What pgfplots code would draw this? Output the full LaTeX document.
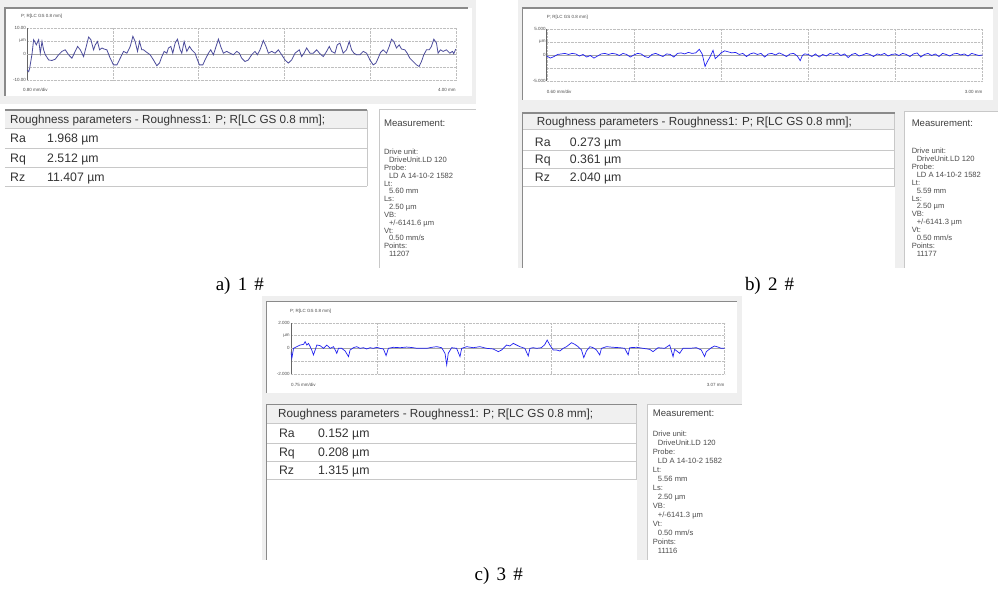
\documentclass[border=0pt]{standalone}
\usepackage{pgfplots}
\pgfplotsset{compat=1.18}
\usepackage{fontspec}
\setmainfont{Liberation Sans}
\newfontfamily\capfont{Liberation Serif}
\definecolor{panelbg}{HTML}{EFEFEF}
\definecolor{hdrbg}{HTML}{F0F0F0}
\definecolor{frame}{HTML}{C8C8C8}
\definecolor{darkframe}{HTML}{8A8A8A}
\definecolor{curveA}{HTML}{4B4B9B}
\definecolor{curveB}{HTML}{2020F0}
\definecolor{txt}{HTML}{333333}
\newcommand\tinyf{\fontsize{4.5}{5}\selectfont}
\newcommand\hdrf{\fontsize{11.7}{12}\selectfont}
\newcommand\tabf{\fontsize{12.3}{13}\selectfont}
\newcommand\capsp{\hspace{0.38em}}
\tikzset{tb/.style={anchor=base west,inner sep=0,font=\tabf,text=txt},
         hb/.style={anchor=base west,inner sep=0,font=\hdrf,text=txt}}
\pgfplotsset{profile/.style={
  scale only axis, anchor=south west,
  axis x line*=bottom, axis y line*=left,
  x axis line style={draw=gray!50, densely dotted, -},
  y axis line style={draw=black!60, -, line width=0.7pt},
  major tick length=0pt,
  xticklabels={},
  grid=major, major grid style={gray!50, densely dotted, line width=0.4pt},
  yticklabel style={font=\tinyf, text=black!70, inner sep=1pt},
  clip=true}}
% #1 x, #2 y of "Measurement:", #3 y of first line, #4 step, #5 Lt, #6 VB, #7 Points
\newcommand\meas[7]{%
  \node[anchor=base west,inner sep=0,font=\fontsize{9.6}{10}\selectfont,text=black!75] at (#1,{-(#2+3.4)}) {Measurement:};
  \foreach \t [count=\i from 0] in {Drive unit:,\hspace*{5pt}DriveUnit.LD 120,Probe:,\hspace*{5pt}LD A 14-10-2 1582,Lt:,\hspace*{5pt}#5,Ls:,\hspace*{5pt}2.50 µm,VB:,\hspace*{5pt}#6,Vt:,\hspace*{5pt}0.50 mm/s,Points:,\hspace*{5pt}#7}
    \node[anchor=base west,inner sep=0,font=\fontsize{7.6}{8}\selectfont,text=black!70] at (#1,{-(#3+\i*#4+2.7)}) {\t};
}
\begin{document}
\begin{tikzpicture}[x=1pt,y=1pt]
\path[fill=white] (0,0) rectangle (998,-589);

%================ panel a =================
\fill[panelbg] (0,0) rectangle (476,-104);
\fill[white] (5,-8) rectangle (472,-96);
\draw[darkframe, line width=1.2pt] (5,-96) -- (5,-8) -- (468,-8);
\node[anchor=west,inner sep=0,font=\tinyf,text=black!70] at (21,-16) {P; R[LC GS 0.8 mm]};
\node[anchor=west,inner sep=0,font=\tinyf,text=black!70] at (23,-90) {0.80 mm/div};
\node[anchor=east,inner sep=0,font=\tinyf,text=black!70] at (456,-90) {4.00 mm};
\begin{axis}[profile, at={(27pt,-80pt)}, width=429pt, height=52pt,
  xmin=0, xmax=4, ymin=-10, ymax=10,
  xtick={0,0.8,1.6,2.4,3.2,4}, ytick={-10,-5,0,5,10},
  yticklabels={-10.00,,0,µm,10.00}]
\addplot[gray!70, line width=0.5pt] coordinates {(0,0) (4,0)};
\addplot[curveA, line width=0.8pt] coordinates {
(0,-6.1)(0.016,-6.8)(0.025,-5.5)(0.047,0)(0.062,5.5)(0.087,3.5)(0.109,5.5)(0.124,0.3)(0.140,4.8)(0.155,1.6)(0.171,-0.3)(0.202,-2.3)(0.233,-2.5)(0.264,-2.0)(0.295,-0.3)(0.326,1.0)(0.357,1.6)(0.388,-0.3)(0.419,-1.6)(0.450,1.0)(0.472,2.9)(0.497,1.6)(0.528,-1.0)(0.553,2.9)(0.575,6.5)(0.596,5.5)(0.621,1.6)(0.637,3.5)(0.658,4.8)(0.677,1.6)(0.699,2.3)(0.720,1.9)(0.745,1.6)(0.776,-1.6)(0.807,-4.2)(0.839,-4.2)(0.870,-1.6)(0.901,1.0)(0.932,0.3)(0.963,2.9)(0.988,6.8)(1.009,4.8)(1.031,1.0)(1.050,4.8)(1.071,1.6)(1.087,1.6)(1.118,0.6)(1.149,-0.3)(1.180,-2.3)(1.211,-4.5)(1.236,-3.5)(1.258,-1.0)(1.280,1.0)(1.304,0.3)(1.320,2.3)(1.342,2.9)(1.360,0.3)(1.382,4.2)(1.404,5.7)(1.429,1.6)(1.444,0.3)(1.466,4.8)(1.491,1.0)(1.516,2.9)(1.537,1.6)(1.568,0.3)(1.584,-1.6)(1.609,-4.2)(1.640,-4.2)(1.661,-2.3)(1.693,0.3)(1.714,1.6)(1.739,-0.3)(1.764,2.9)(1.786,5.7)(1.807,2.9)(1.832,0.3)(1.863,1.0)(1.894,0.3)(1.925,-0.3)(1.957,1.0)(1.981,0.3)(2.003,-1.6)(2.034,-2.9)(2.065,-2.3)(2.096,-0.3)(2.127,1.0)(2.149,-0.3)(2.174,1.6)(2.205,5.2)(2.230,2.9)(2.252,0.3)(2.283,1.0)(2.314,0.3)(2.345,1.6)(2.376,-0.3)(2.407,-2.3)(2.438,-3.5)(2.469,-2.3)(2.500,0.3)(2.522,1.0)(2.540,1.6)(2.562,-1.0)(2.584,0.3)(2.609,2.3)(2.640,0.3)(2.671,0.3)(2.702,1.6)(2.733,0.1)(2.764,-1.0)(2.795,1.0)(2.820,2.9)(2.842,1.0)(2.873,0.3)(2.894,3.5)(2.919,4.2)(2.950,0.3)(2.981,1.6)(3.006,4.8)(3.028,1.6)(3.050,0.3)(3.075,-0.3)(3.106,-0.3)(3.137,1.0)(3.168,0.3)(3.199,-2.3)(3.230,-4.2)(3.255,-3.5)(3.276,-1.6)(3.298,0.6)(3.323,1.6)(3.354,0.3)(3.379,2.9)(3.401,5.7)(3.422,4.8)(3.447,2.3)(3.472,3.5)(3.494,1.9)(3.525,1.6)(3.547,0.3)(3.571,-1.6)(3.602,-2.9)(3.634,-4.2)(3.658,-4.8)(3.680,-2.9)(3.702,-0.3)(3.727,1.6)(3.752,1.6)(3.773,2.9)(3.795,5.7)(3.820,4.2)(3.835,0.3)(3.857,1.6)(3.882,1.0)(3.913,1.6)(3.944,0.3)(3.969,1.0)(3.981,0.1)(4.000,1.9)};
\end{axis}
% table a
\fill[hdrbg] (5,-110) rectangle (367,-128);
\draw[frame] (5,-128) -- (367,-128) (5,-148) -- (367,-148) (5,-167) -- (367,-167) (5,-186) -- (367,-186) (367,-110) -- (367,-186);
\draw[darkframe, line width=1.2pt] (5,-110) -- (367,-110);
\node[hb] at (10,-123.2) {Roughness parameters - Roughness1: P; R[LC GS 0.8 mm];};
\node[tb] at (10,-142.4) {Ra};
\node[tb] at (47,-142.4) {1.968 µm};
\node[tb] at (10,-162.4) {Rq};
\node[tb] at (47,-162.4) {2.512 µm};
\node[tb] at (10,-181.4) {Rz};
\node[tb] at (47,-181.4) {11.407 µm};
\fill[white] (380,-110) rectangle (476,-268);
\draw[frame, line width=1pt] (380,-268) -- (380,-110) -- (476,-110);
\meas{384}{123}{152}{7.85}{5.60 mm}{+/-6141.6 µm}{11207}
\node[font=\capfont\fontsize{19}{20}\selectfont] at (240,-286) {a)\capsp 1\capsp\#};

%================ panel b =================
\fill[panelbg] (518,0) rectangle (998,-268);
\fill[white] (523,-8) rectangle (993,-100);
\draw[darkframe, line width=1.2pt] (523,-100) -- (523,-8) -- (993,-8);
\node[anchor=west,inner sep=0,font=\tinyf,text=black!70] at (547,-17) {P; R[LC GS 0.8 mm]};
\node[anchor=west,inner sep=0,font=\tinyf,text=black!70] at (547,-92) {0.60 mm/div};
\node[anchor=east,inner sep=0,font=\tinyf,text=black!70] at (983,-92) {3.00 mm};
\begin{axis}[profile, at={(547pt,-81pt)}, width=436pt, height=52pt,
  xmin=0, xmax=3, ymin=-5, ymax=5,
  xtick={0,0.6,1.2,1.8,2.4,3}, ytick={-5,-2.5,0,2.5,5},
  yticklabels={-5.000,,0,µm,5.000}]
\addplot[gray!70, line width=0.5pt] coordinates {(0,0) (3,0)};
\addplot[curveB, line width=0.7pt] coordinates {
(0,-0.2)(0.025,-0.6)(0.05,-0.3)(0.075,0.1)(0.1,0.2)(0.125,0.3)(0.15,0.1)(0.175,0.3)(0.2,0.2)(0.225,-0.2)(0.25,0.1)(0.275,-0.4)(0.3,-0.1)(0.325,-0.6)(0.35,-0.2)(0.375,0.2)(0.4,0.3)(0.425,0.1)(0.45,0.3)(0.475,0.2)(0.5,-0.1)(0.525,0.3)(0.55,0.1)(0.575,-0.4)(0.6,0.0)(0.625,0.3)(0.65,0.2)(0.675,-0.3)(0.7,-0.5)(0.725,0.1)(0.75,0.3)(0.775,0.0)(0.8,-0.3)(0.825,0.2)(0.85,0.1)(0.875,-0.4)(0.9,0.3)(0.925,0.4)(0.95,0.2)(0.975,0.5)(1.0,0.3)(1.025,0.4)(1.05,1.1)(1.07,0.2)(1.09,-2.2)(1.105,-1.3)(1.12,-0.6)(1.135,0.3)(1.145,0.9)(1.16,-0.7)(1.18,-0.2)(1.2,0.4)(1.225,0.8)(1.25,0.6)(1.275,0.4)(1.3,0.5)(1.325,0.1)(1.35,0.3)(1.375,-0.3)(1.4,0.2)(1.425,0.4)(1.45,0.1)(1.475,0.3)(1.5,-0.4)(1.525,0.2)(1.55,0.3)(1.575,0.0)(1.6,0.4)(1.625,0.1)(1.65,-0.3)(1.675,0.2)(1.7,0.3)(1.725,-0.2)(1.745,-1.1)(1.76,-0.1)(1.775,0.2)(1.8,0.1)(1.825,-0.3)(1.85,0.2)(1.875,-0.4)(1.9,0.1)(1.925,-0.2)(1.95,0.3)(1.975,0.1)(2.0,0.4)(2.025,-0.1)(2.05,0.2)(2.075,-0.5)(2.1,0.1)(2.125,0.3)(2.15,-0.2)(2.175,0.0)(2.2,0.3)(2.225,0.1)(2.25,-0.3)(2.275,0.2)(2.3,0.0)(2.325,0.3)(2.35,-0.2)(2.375,0.1)(2.4,0.2)(2.425,-0.1)(2.45,0.3)(2.475,0.1)(2.5,-0.3)(2.525,0.2)(2.55,0.4)(2.575,-0.4)(2.6,0.1)(2.625,0.3)(2.65,-0.1)(2.675,0.2)(2.7,-0.3)(2.725,0.3)(2.75,0.1)(2.775,-0.2)(2.8,0.2)(2.825,0.3)(2.85,0.0)(2.875,0.2)(2.9,-0.2)(2.925,0.3)(2.95,0.1)(2.975,-0.1)(3.0,0.0)};
\end{axis}
% table b
\fill[white] (523,-129) rectangle (895,-268);
\fill[hdrbg] (523,-113) rectangle (895,-129);
\draw[frame] (523,-129) -- (895,-129) (523,-150) -- (895,-150) (523,-168) -- (895,-168) (523,-186) -- (895,-186) (895,-113) -- (895,-186);
\draw[darkframe, line width=1.2pt] (523,-268) -- (523,-113) -- (895,-113);
\node[hb] at (537,-125.2) {Roughness parameters - Roughness1: P; R[LC GS 0.8 mm];};
\node[tb] at (535,-146.4) {Ra};
\node[tb] at (570,-146.4) {0.273 µm};
\node[tb] at (535,-163.4) {Rq};
\node[tb] at (570,-163.4) {0.361 µm};
\node[tb] at (535,-181.4) {Rz};
\node[tb] at (570,-181.4) {2.040 µm};
\fill[white] (905,-112) rectangle (998,-268);
\draw[frame, line width=1pt] (905,-268) -- (905,-112) -- (998,-112);
\meas{912}{123}{151}{7.9}{5.59 mm}{+/-6141.3 µm}{11177}
\node[font=\capfont\fontsize{19}{20}\selectfont] at (770,-286) {b)\capsp 2\capsp\#};

%================ panel c =================
\fill[panelbg] (262,-296) rectangle (742,-560);
\fill[white] (267,-302) rectangle (737,-393);
\draw[darkframe, line width=1.2pt] (267,-393) -- (267,-302) -- (737,-302);
\node[anchor=west,inner sep=0,font=\tinyf,text=black!70] at (290,-311) {P; R[LC GS 0.8 mm]};
\node[anchor=west,inner sep=0,font=\tinyf,text=black!70] at (291,-385) {0.75 mm/div};
\node[anchor=east,inner sep=0,font=\tinyf,text=black!70] at (725,-385) {3.07 mm};
\begin{axis}[profile, at={(291pt,-374pt)}, width=434pt, height=51pt,
  xmin=0, xmax=3.07, ymin=-2, ymax=2,
  xtick={0,0.614,1.228,1.842,2.456,3.07}, ytick={-2,-1,0,1,2},
  yticklabels={-2.000,,0,µm,2.000}]
\addplot[gray!70, line width=0.5pt] coordinates {(0,0) (3.07,0)};
\addplot[curveB, line width=0.7pt] coordinates {
(0,-0.26)(0.007,-0.78)(0.019,0)(0.042,0.13)(0.066,0.26)(0.090,0.31)(0.101,0.52)(0.113,0.26)(0.125,0.39)(0.137,0.13)(0.148,-0.13)(0.160,-0.52)(0.172,-0.13)(0.184,0.26)(0.207,0.21)(0.231,0)(0.254,0.26)(0.278,0)(0.302,0.13)(0.325,-0.39)(0.337,0)(0.360,0)(0.384,-0.21)(0.408,-0.65)(0.419,-0.13)(0.443,0.05)(0.466,0.13)(0.490,0)(0.514,0.05)(0.537,-0.05)(0.561,0.05)(0.584,0)(0.608,0.08)(0.631,0)(0.655,-0.05)(0.674,-0.57)(0.690,0)(0.726,0.08)(0.773,0.05)(0.820,0.10)(0.867,0.05)(0.891,0)(0.914,0)(0.961,0)(0.997,0.08)(1.032,0.13)(1.067,0.05)(1.091,-0.39)(1.103,-1.30)(1.114,-0.39)(1.138,0.05)(1.173,0)(1.197,-0.65)(1.209,0)(1.244,0.13)(1.291,0.05)(1.338,0.13)(1.385,0)(1.432,-0.05)(1.468,-0.26)(1.491,-0.13)(1.527,0.26)(1.550,0.18)(1.574,0.39)(1.597,0.26)(1.621,0.13)(1.656,0)(1.680,-0.60)(1.692,0)(1.715,0.05)(1.739,0)(1.774,0.05)(1.798,0.31)(1.814,0.65)(1.833,0.26)(1.857,-0.13)(1.880,-0.13)(1.904,-0.21)(1.927,0)(1.951,0.13)(1.986,0.44)(2.010,0.31)(2.033,0.13)(2.057,-0.13)(2.073,-0.73)(2.092,-0.21)(2.116,0.13)(2.139,0.05)(2.163,-0.13)(2.186,-0.52)(2.198,0)(2.233,0.13)(2.281,0.08)(2.328,0.05)(2.363,0)(2.387,-0.52)(2.398,0.05)(2.446,0.08)(2.493,0)(2.540,-0.08)(2.563,-0.26)(2.599,0.05)(2.646,0)(2.681,0.26)(2.705,-0.65)(2.716,-0.08)(2.752,-0.39)(2.775,0)(2.822,0)(2.870,0.05)(2.905,-0.13)(2.928,-0.65)(2.940,-0.26)(2.976,0.05)(2.999,0.18)(3.023,0.10)(3.046,0)(3.070,0)};
\end{axis}
% table c
\fill[white] (267,-423) rectangle (637,-560);
\fill[hdrbg] (267,-405) rectangle (637,-423);
\draw[frame] (267,-423) -- (637,-423) (267,-443) -- (637,-443) (267,-461) -- (637,-461) (267,-479) -- (637,-479) (637,-405) -- (637,-479);
\draw[darkframe, line width=1.2pt] (267,-560) -- (267,-405) -- (637,-405);
\node[hb] at (278,-418.2) {Roughness parameters - Roughness1: P; R[LC GS 0.8 mm];};
\node[tb] at (279,-437.4) {Ra};
\node[tb] at (318,-437.4) {0.152 µm};
\node[tb] at (279,-456.4) {Rq};
\node[tb] at (318,-456.4) {0.208 µm};
\node[tb] at (279,-474.4) {Rz};
\node[tb] at (318,-474.4) {1.315 µm};
\fill[white] (648,-405) rectangle (742,-560);
\draw[frame, line width=1pt] (648,-560) -- (648,-405) -- (742,-405);
\meas{653}{413}{434}{9}{5.56 mm}{+/-6141.3 µm}{11116}
\node[font=\capfont\fontsize{19}{20}\selectfont] at (499,-576) {c)\capsp 3\capsp\#};
\end{tikzpicture}
\end{document}
